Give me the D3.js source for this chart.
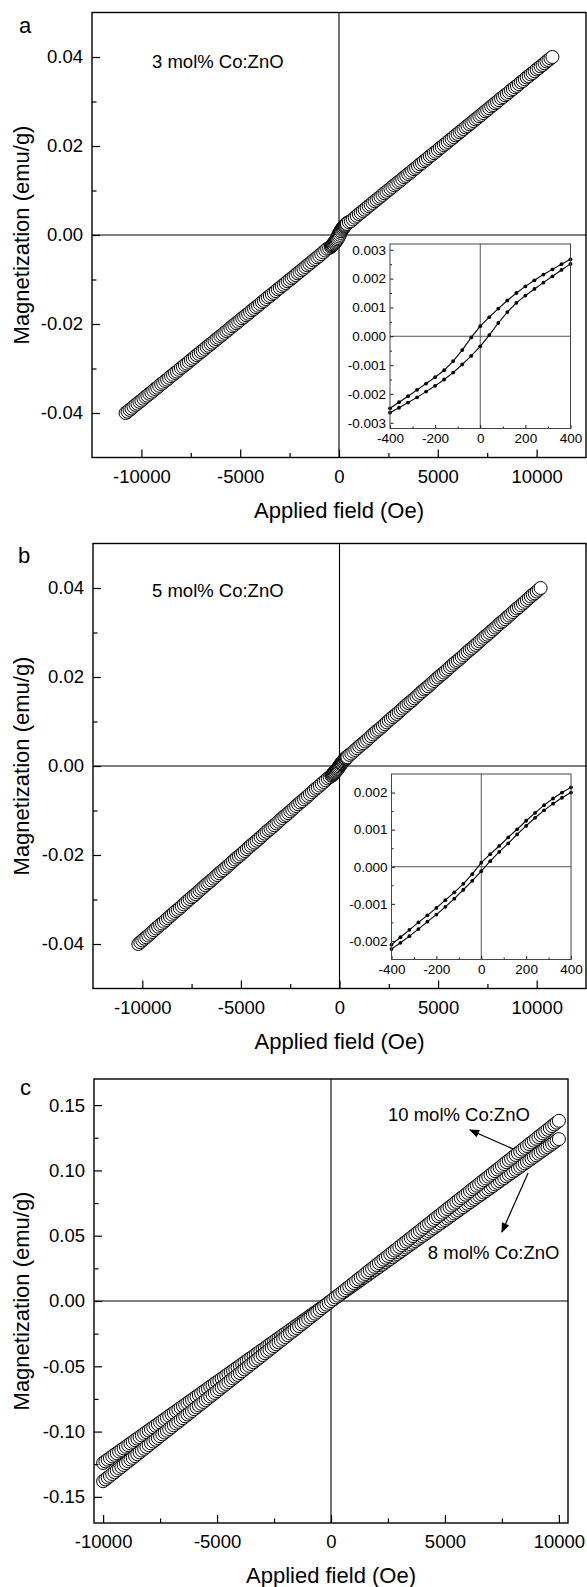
<!DOCTYPE html>
<html>
<head>
<meta charset="utf-8">
<title>M-H curves of Co:ZnO</title>
<script src="https://cdnjs.cloudflare.com/ajax/libs/d3/7.8.5/d3.min.js"></script>
<style>
  body { margin: 0; background: #fff; }
  svg { display: block; font-family: "Liberation Sans", Arial, sans-serif; }
</style>
</head>
<body>
<svg id="chart" width="587" height="1587"></svg>
<script>
// ---- data ----
// panel a, 3 mol% (field in Oe, magnetization in emu/g), first sweep
var fieldA = [-10800,-10600,-10400,-10200,-10000,-9800,-9600,-9400,-9200,-9000,-8800,-8600,-8400,-8200,-8000,-7800,-7600,-7400,-7200,-7000,
  -6800,-6600,-6400,-6200,-6000,-5800,-5600,-5400,-5200,-5000,-4800,-4600,-4400,-4200,-4000,-3800,-3600,-3400,-3200,-3000,
  -2800,-2600,-2400,-2200,-2000,-1800,-1600,-1400,-1200,-1000,-800,-600,-400,-200,0,200,400,600,800,1000,
  1200,1400,1600,1800,2000,2200,2400,2600,2800,3000,3200,3400,3600,3800,4000,4200,4400,4600,4800,5000,
  5200,5400,5600,5800,6000,6200,6400,6600,6800,7000,7200,7400,7600,7800,8000,8200,8400,8600,8800,9000,
  9200,9400,9600,9800,10000,10200,10400,10600,10800];
var magA = [-0.0400,-0.0393,-0.0386,-0.0379,-0.0372,-0.0364,-0.0357,-0.0350,-0.0343,-0.0335,-0.0328,-0.0321,-0.0314,-0.0307,-0.0299,-0.0292,-0.0285,-0.0278,-0.0270,-0.0263,
  -0.0256,-0.0249,-0.0242,-0.0234,-0.0227,-0.0220,-0.0213,-0.0205,-0.0198,-0.0191,-0.0184,-0.0177,-0.0169,-0.0162,-0.0155,-0.0148,-0.0140,-0.0133,-0.0126,-0.0119,
  -0.0112,-0.0104,-0.0097,-0.0090,-0.0083,-0.0076,-0.0068,-0.0061,-0.0054,-0.0047,-0.0039,-0.0031,-0.0026,-0.0016,0.0000,0.0016,0.0026,0.0031,0.0039,0.0047,
  0.0054,0.0061,0.0068,0.0076,0.0083,0.0090,0.0097,0.0104,0.0112,0.0119,0.0126,0.0133,0.0140,0.0148,0.0155,0.0162,0.0169,0.0177,0.0184,0.0191,
  0.0198,0.0205,0.0213,0.0220,0.0227,0.0234,0.0242,0.0249,0.0256,0.0263,0.0270,0.0278,0.0285,0.0292,0.0299,0.0307,0.0314,0.0321,0.0328,0.0335,
  0.0343,0.0350,0.0357,0.0364,0.0372,0.0379,0.0386,0.0393,0.0400];
// panel a, return sweep
var fieldA2 = [-10700,-10500,-10300,-10100,-9900,-9700,-9500,-9300,-9100,-8900,-8700,-8500,-8300,-8100,-7900,-7700,-7500,-7300,-7100,-6900,
  -6700,-6500,-6300,-6100,-5900,-5700,-5500,-5300,-5100,-4900,-4700,-4500,-4300,-4100,-3900,-3700,-3500,-3300,-3100,-2900,
  -2700,-2500,-2300,-2100,-1900,-1700,-1500,-1300,-1100,-900,-700,-500,-300,-100,100,300,500,700,900,1100,
  1300,1500,1700,1900,2100,2300,2500,2700,2900,3100,3300,3500,3700,3900,4100,4300,4500,4700,4900,5100,
  5300,5500,5700,5900,6100,6300,6500,6700,6900,7100,7300,7500,7700,7900,8100,8300,8500,8700,8900,9100,
  9300,9500,9700,9900,10100,10300,10500,10700];
var magA2 = [-0.0397,-0.0390,-0.0382,-0.0375,-0.0368,-0.0361,-0.0354,-0.0346,-0.0339,-0.0332,-0.0325,-0.0317,-0.0310,-0.0303,-0.0296,-0.0289,-0.0281,-0.0274,-0.0267,-0.0260,
  -0.0252,-0.0245,-0.0238,-0.0231,-0.0224,-0.0216,-0.0209,-0.0202,-0.0195,-0.0187,-0.0180,-0.0173,-0.0166,-0.0159,-0.0151,-0.0144,-0.0137,-0.0130,-0.0122,-0.0115,
  -0.0108,-0.0101,-0.0094,-0.0086,-0.0079,-0.0072,-0.0065,-0.0057,-0.0050,-0.0043,-0.0035,-0.0029,-0.0021,-0.0009,0.0009,0.0021,0.0029,0.0035,0.0043,0.0050,
  0.0057,0.0065,0.0072,0.0079,0.0086,0.0094,0.0101,0.0108,0.0115,0.0122,0.0130,0.0137,0.0144,0.0151,0.0159,0.0166,0.0173,0.0180,0.0187,0.0195,
  0.0202,0.0209,0.0216,0.0224,0.0231,0.0238,0.0245,0.0252,0.0260,0.0267,0.0274,0.0281,0.0289,0.0296,0.0303,0.0310,0.0317,0.0325,0.0332,0.0339,
  0.0346,0.0354,0.0361,0.0368,0.0375,0.0382,0.0390,0.0397];

// panel b, 5 mol%
var fieldB = [-10200,-10000,-9800,-9600,-9400,-9200,-9000,-8800,-8600,-8400,-8200,-8000,-7800,-7600,-7400,-7200,-7000,
  -6800,-6600,-6400,-6200,-6000,-5800,-5600,-5400,-5200,-5000,-4800,-4600,-4400,-4200,-4000,-3800,-3600,-3400,-3200,-3000,
  -2800,-2600,-2400,-2200,-2000,-1800,-1600,-1400,-1200,-1000,-800,-600,-400,-200,0,200,400,600,800,1000,
  1200,1400,1600,1800,2000,2200,2400,2600,2800,3000,3200,3400,3600,3800,4000,4200,4400,4600,4800,5000,
  5200,5400,5600,5800,6000,6200,6400,6600,6800,7000,7200,7400,7600,7800,8000,8200,8400,8600,8800,9000,
  9200,9400,9600,9800,10000,10200];
var magB = [-0.0400,-0.0392,-0.0385,-0.0377,-0.0369,-0.0361,-0.0354,-0.0346,-0.0338,-0.0330,-0.0323,-0.0315,-0.0307,-0.0299,-0.0292,-0.0284,-0.0276,
  -0.0268,-0.0261,-0.0253,-0.0245,-0.0237,-0.0230,-0.0222,-0.0214,-0.0206,-0.0199,-0.0191,-0.0183,-0.0175,-0.0168,-0.0160,-0.0152,-0.0144,-0.0137,-0.0129,-0.0121,
  -0.0113,-0.0106,-0.0098,-0.0090,-0.0082,-0.0075,-0.0067,-0.0059,-0.0051,-0.0044,-0.0036,-0.0028,-0.0021,-0.0011,0.0000,0.0011,0.0021,0.0028,0.0036,0.0044,
  0.0051,0.0059,0.0067,0.0075,0.0082,0.0090,0.0098,0.0106,0.0113,0.0121,0.0129,0.0137,0.0144,0.0152,0.0160,0.0168,0.0175,0.0183,0.0191,0.0199,
  0.0206,0.0214,0.0222,0.0230,0.0237,0.0245,0.0253,0.0261,0.0268,0.0276,0.0284,0.0292,0.0299,0.0307,0.0315,0.0323,0.0330,0.0338,0.0346,0.0354,
  0.0361,0.0369,0.0377,0.0385,0.0392,0.0400];
var fieldB2 = [-10100,-9900,-9700,-9500,-9300,-9100,-8900,-8700,-8500,-8300,-8100,-7900,-7700,-7500,-7300,-7100,-6900,
  -6700,-6500,-6300,-6100,-5900,-5700,-5500,-5300,-5100,-4900,-4700,-4500,-4300,-4100,-3900,-3700,-3500,-3300,-3100,-2900,
  -2700,-2500,-2300,-2100,-1900,-1700,-1500,-1300,-1100,-900,-700,-500,-300,-100,100,300,500,700,900,1100,
  1300,1500,1700,1900,2100,2300,2500,2700,2900,3100,3300,3500,3700,3900,4100,4300,4500,4700,4900,5100,
  5300,5500,5700,5900,6100,6300,6500,6700,6900,7100,7300,7500,7700,7900,8100,8300,8500,8700,8900,9100,
  9300,9500,9700,9900,10100];
var magB2 = [-0.0396,-0.0388,-0.0381,-0.0373,-0.0365,-0.0357,-0.0350,-0.0342,-0.0334,-0.0326,-0.0319,-0.0311,-0.0303,-0.0295,-0.0288,-0.0280,-0.0272,
  -0.0264,-0.0257,-0.0249,-0.0241,-0.0234,-0.0226,-0.0218,-0.0210,-0.0203,-0.0195,-0.0187,-0.0179,-0.0172,-0.0164,-0.0156,-0.0148,-0.0141,-0.0133,-0.0125,-0.0117,
  -0.0110,-0.0102,-0.0094,-0.0086,-0.0079,-0.0071,-0.0063,-0.0055,-0.0048,-0.0040,-0.0032,-0.0025,-0.0016,-0.0006,0.0006,0.0016,0.0025,0.0032,0.0040,0.0048,
  0.0055,0.0063,0.0071,0.0079,0.0086,0.0094,0.0102,0.0110,0.0117,0.0125,0.0133,0.0141,0.0148,0.0156,0.0164,0.0172,0.0179,0.0187,0.0195,0.0203,
  0.0210,0.0218,0.0226,0.0234,0.0241,0.0249,0.0257,0.0264,0.0272,0.0280,0.0288,0.0295,0.0303,0.0311,0.0319,0.0326,0.0334,0.0342,0.0350,0.0357,
  0.0365,0.0373,0.0381,0.0388,0.0396];

// low-field loops shown in the insets (same field steps for both)
var insetField = [-400,-360,-320,-280,-240,-200,-160,-120,-80,-40,0,40,80,120,160,200,240,280,320,360,400];
var insetAUpper = [-0.00250,-0.00229,-0.00208,-0.00186,-0.00164,-0.00142,-0.00118,-0.00086,-0.00048,-0.00004,0.00035,
  0.00066,0.00096,0.00124,0.00150,0.00173,0.00194,0.00214,0.00232,0.00250,0.00267];
var insetALower = [-0.00265,-0.00248,-0.00230,-0.00212,-0.00192,-0.00172,-0.00150,-0.00126,-0.00098,-0.00068,-0.00035,
  0.00004,0.00046,0.00084,0.00116,0.00141,0.00164,0.00186,0.00208,0.00230,0.00251];
var insetBUpper = [-0.00210,-0.00190,-0.00170,-0.00150,-0.00131,-0.00111,-0.00090,-0.00069,-0.00046,-0.00020,0.00011,
  0.00034,0.00056,0.00079,0.00101,0.00124,0.00145,0.00166,0.00184,0.00200,0.00214];
var insetBLower = [-0.00222,-0.00205,-0.00187,-0.00168,-0.00148,-0.00129,-0.00108,-0.00086,-0.00062,-0.00038,-0.00012,
  0.00015,0.00040,0.00063,0.00087,0.00110,0.00132,0.00152,0.00170,0.00186,0.00200];

// panel c, 8 and 10 mol%
var fieldC = [-10000,-9800,-9600,-9400,-9200,-9000,-8800,-8600,-8400,-8200,-8000,-7800,-7600,-7400,-7200,-7000,
  -6800,-6600,-6400,-6200,-6000,-5800,-5600,-5400,-5200,-5000,-4800,-4600,-4400,-4200,-4000,-3800,-3600,-3400,-3200,-3000,
  -2800,-2600,-2400,-2200,-2000,-1800,-1600,-1400,-1200,-1000,-800,-600,-400,-200,0,200,400,600,800,1000,
  1200,1400,1600,1800,2000,2200,2400,2600,2800,3000,3200,3400,3600,3800,4000,4200,4400,4600,4800,5000,
  5200,5400,5600,5800,6000,6200,6400,6600,6800,7000,7200,7400,7600,7800,8000,8200,8400,8600,8800,9000,
  9200,9400,9600,9800,10000];
var magC8 = [-0.1240,-0.1215,-0.1190,-0.1166,-0.1141,-0.1116,-0.1091,-0.1066,-0.1042,-0.1017,-0.0992,-0.0967,-0.0942,-0.0918,-0.0893,-0.0868,
  -0.0843,-0.0818,-0.0794,-0.0769,-0.0744,-0.0719,-0.0694,-0.0670,-0.0645,-0.0620,-0.0595,-0.0570,-0.0546,-0.0521,-0.0496,-0.0471,-0.0446,-0.0422,-0.0397,-0.0372,
  -0.0347,-0.0322,-0.0298,-0.0273,-0.0248,-0.0223,-0.0198,-0.0174,-0.0149,-0.0124,-0.0099,-0.0074,-0.0050,-0.0025,0.0000,0.0025,0.0050,0.0074,0.0099,0.0124,
  0.0149,0.0174,0.0198,0.0223,0.0248,0.0273,0.0298,0.0322,0.0347,0.0372,0.0397,0.0422,0.0446,0.0471,0.0496,0.0521,0.0546,0.0570,0.0595,0.0620,
  0.0645,0.0670,0.0694,0.0719,0.0744,0.0769,0.0794,0.0818,0.0843,0.0868,0.0893,0.0918,0.0942,0.0967,0.0992,0.1017,0.1042,0.1066,0.1091,0.1116,
  0.1141,0.1166,0.1190,0.1215,0.1240];
var magC10 = [-0.1380,-0.1352,-0.1325,-0.1297,-0.1270,-0.1242,-0.1214,-0.1187,-0.1159,-0.1132,-0.1104,-0.1076,-0.1049,-0.1021,-0.0994,-0.0966,
  -0.0938,-0.0911,-0.0883,-0.0856,-0.0828,-0.0800,-0.0773,-0.0745,-0.0718,-0.0690,-0.0662,-0.0635,-0.0607,-0.0580,-0.0552,-0.0524,-0.0497,-0.0469,-0.0442,-0.0414,
  -0.0386,-0.0359,-0.0331,-0.0304,-0.0276,-0.0248,-0.0221,-0.0193,-0.0166,-0.0138,-0.0110,-0.0083,-0.0055,-0.0028,0.0000,0.0028,0.0055,0.0083,0.0110,0.0138,
  0.0166,0.0193,0.0221,0.0248,0.0276,0.0304,0.0331,0.0359,0.0386,0.0414,0.0442,0.0469,0.0497,0.0524,0.0552,0.0580,0.0607,0.0635,0.0662,0.0690,
  0.0718,0.0745,0.0773,0.0800,0.0828,0.0856,0.0883,0.0911,0.0938,0.0966,0.0994,0.1021,0.1049,0.1076,0.1104,0.1132,0.1159,0.1187,0.1214,0.1242,
  0.1270,0.1297,0.1325,0.1352,0.1380];
var fieldC2 = [-9900,-9700,-9500,-9300,-9100,-8900,-8700,-8500,-8300,-8100,-7900,-7700,-7500,-7300,-7100,-6900,
  -6700,-6500,-6300,-6100,-5900,-5700,-5500,-5300,-5100,-4900,-4700,-4500,-4300,-4100,-3900,-3700,-3500,-3300,-3100,-2900,
  -2700,-2500,-2300,-2100,-1900,-1700,-1500,-1300,-1100,-900,-700,-500,-300,-100,100,300,500,700,900,1100,
  1300,1500,1700,1900,2100,2300,2500,2700,2900,3100,3300,3500,3700,3900,4100,4300,4500,4700,4900,5100,
  5300,5500,5700,5900,6100,6300,6500,6700,6900,7100,7300,7500,7700,7900,8100,8300,8500,8700,8900,9100,
  9300,9500,9700,9900];
var magC8b = [-0.1228,-0.1203,-0.1178,-0.1153,-0.1128,-0.1104,-0.1079,-0.1054,-0.1029,-0.1004,-0.0980,-0.0955,-0.0930,-0.0905,-0.0880,-0.0856,
  -0.0831,-0.0806,-0.0781,-0.0756,-0.0732,-0.0707,-0.0682,-0.0657,-0.0632,-0.0608,-0.0583,-0.0558,-0.0533,-0.0508,-0.0484,-0.0459,-0.0434,-0.0409,-0.0384,-0.0360,
  -0.0335,-0.0310,-0.0285,-0.0260,-0.0236,-0.0211,-0.0186,-0.0161,-0.0136,-0.0112,-0.0087,-0.0062,-0.0037,-0.0012,0.0012,0.0037,0.0062,0.0087,0.0112,0.0136,
  0.0161,0.0186,0.0211,0.0236,0.0260,0.0285,0.0310,0.0335,0.0360,0.0384,0.0409,0.0434,0.0459,0.0484,0.0508,0.0533,0.0558,0.0583,0.0608,0.0632,
  0.0657,0.0682,0.0707,0.0732,0.0756,0.0781,0.0806,0.0831,0.0856,0.0880,0.0905,0.0930,0.0955,0.0980,0.1004,0.1029,0.1054,0.1079,0.1104,0.1128,
  0.1153,0.1178,0.1203,0.1228];
var magC10b = [-0.1366,-0.1339,-0.1311,-0.1283,-0.1256,-0.1228,-0.1201,-0.1173,-0.1145,-0.1118,-0.1090,-0.1063,-0.1035,-0.1007,-0.0980,-0.0952,
  -0.0925,-0.0897,-0.0869,-0.0842,-0.0814,-0.0787,-0.0759,-0.0731,-0.0704,-0.0676,-0.0649,-0.0621,-0.0593,-0.0566,-0.0538,-0.0511,-0.0483,-0.0455,-0.0428,-0.0400,
  -0.0373,-0.0345,-0.0317,-0.0290,-0.0262,-0.0235,-0.0207,-0.0179,-0.0152,-0.0124,-0.0097,-0.0069,-0.0041,-0.0014,0.0014,0.0041,0.0069,0.0097,0.0124,0.0152,
  0.0179,0.0207,0.0235,0.0262,0.0290,0.0317,0.0345,0.0373,0.0400,0.0428,0.0455,0.0483,0.0511,0.0538,0.0566,0.0593,0.0621,0.0649,0.0676,0.0704,
  0.0731,0.0759,0.0787,0.0814,0.0842,0.0869,0.0897,0.0925,0.0952,0.0980,0.1007,0.1035,0.1063,0.1090,0.1118,0.1145,0.1173,0.1201,0.1228,0.1256,
  0.1283,0.1311,0.1339,0.1366];

// ticks and labels
var xTicksMain = [-10000,-5000,0,5000,10000];
var xMinorMain = [-7500,-2500,2500,7500];
var yTicksAB = [-0.04,-0.02,0,0.02,0.04];
var yMinorAB = [-0.03,-0.01,0.01,0.03];
var yTicksC = [-0.15,-0.10,-0.05,0,0.05,0.10,0.15];
var yMinorC = [-0.125,-0.075,-0.025,0.025,0.075,0.125];
var xTicksInset = [-400,-200,0,200,400];
var xMinorInset = [-300,-100,100,300];
var yTicksInsetA = [-0.003,-0.002,-0.001,0,0.001,0.002,0.003];
var yMinorInsetA = [-0.0025,-0.0015,-0.0005,0.0005,0.0015,0.0025];
var yTicksInsetB = [-0.002,-0.001,0,0.001,0.002];
var yMinorInsetB = [-0.0015,-0.0005,0.0005,0.0015];
var sampleA = '3 mol% Co:ZnO', sampleB = '5 mol% Co:ZnO';
var sampleC10 = '10 mol% Co:ZnO', sampleC8 = '8 mol% Co:ZnO';
var xTitle = 'Applied field (Oe)', yTitle = 'Magnetization (emu/g)';

// ---- drawing ----
var svg = d3.select('#chart');
var FONT = '"Liberation Sans", Arial, sans-serif';

svg.append('defs').append('marker')
  .attr('id', 'head').attr('viewBox', '0 0 10 10')
  .attr('refX', 9).attr('refY', 5)
  .attr('markerWidth', 12).attr('markerHeight', 10)
  .attr('markerUnits', 'userSpaceOnUse')
  .attr('orient', 'auto')
  .append('path').attr('d', 'M0,1 L10,5 L0,9 Z').attr('fill', '#000');

function axes(g, x, y, o) {
  var bottom = y.range()[0], left = x.range()[0];
  function style(sel, size) {
    sel.attr('font-size', size).attr('font-family', FONT);
    sel.select('.domain').remove();
    sel.selectAll('line').attr('stroke-width', o.tickW);
    sel.selectAll('text').attr('fill', '#000');
  }
  g.append('g').attr('transform', 'translate(0,' + bottom + ')')
    .call(d3.axisBottom(x).tickValues(o.xMajor).tickFormat(o.xFmt)
      .tickSize(-o.major).tickSizeOuter(0).tickPadding(o.xPad))
    .call(style, o.size);
  g.append('g').attr('transform', 'translate(0,' + bottom + ')')
    .call(d3.axisBottom(x).tickValues(o.xMinor).tickFormat('')
      .tickSize(-o.minor).tickSizeOuter(0))
    .call(style, o.size);
  g.append('g').attr('transform', 'translate(' + left + ',0)')
    .call(d3.axisLeft(y).tickValues(o.yMajor).tickFormat(o.yFmt)
      .tickSize(-o.major).tickSizeOuter(0).tickPadding(o.yPad))
    .call(style, o.size);
  g.append('g').attr('transform', 'translate(' + left + ',0)')
    .call(d3.axisLeft(y).tickValues(o.yMinor).tickFormat('')
      .tickSize(-o.minor).tickSizeOuter(0))
    .call(style, o.size);
}

function frame(g, x, y, color, w) {
  g.append('rect')
    .attr('x', x.range()[0]).attr('y', y.range()[1])
    .attr('width', x.range()[1] - x.range()[0])
    .attr('height', y.range()[0] - y.range()[1])
    .attr('fill', 'none').attr('stroke', color).attr('stroke-width', w);
}

function zeroLines(g, x, y, color, w) {
  g.append('line').attr('x1', x(0)).attr('x2', x(0))
    .attr('y1', y.range()[1]).attr('y2', y.range()[0])
    .attr('stroke', color).attr('stroke-width', w);
  g.append('line').attr('x1', x.range()[0]).attr('x2', x.range()[1])
    .attr('y1', y(0)).attr('y2', y(0))
    .attr('stroke', color).attr('stroke-width', w);
}

// every sweep of one sample, drawn as open circles in order of rising field
function chain(g, x, y, sweeps) {
  var pts = [];
  sweeps.forEach(function (s) {
    s[0].forEach(function (f, i) { pts.push([f, s[1][i]]); });
  });
  pts.sort(function (a, b) { return d3.ascending(a[0], b[0]); });
  g.append('g').selectAll('circle').data(pts).join('circle')
    .attr('cx', function (d) { return x(d[0]); })
    .attr('cy', function (d) { return y(d[1]); })
    .attr('r', 6.5)
    .attr('fill', '#fff').attr('stroke', '#000').attr('stroke-width', 1);
}

function fmt(n) { return function (d) { return d.toFixed(n); }; }

function mainPanel(p) {
  var g = svg.append('g');
  var x = d3.scaleLinear().domain(p.xDom).range(p.xRange);
  var y = d3.scaleLinear().domain(p.yDom).range(p.yRange);
  zeroLines(g, x, y, '#000', 1.1);
  p.samples.forEach(function (sweeps) { chain(g, x, y, sweeps); });
  axes(g, x, y, {
    xMajor: xTicksMain, xMinor: p.xMinor, yMajor: p.yMajor, yMinor: p.yMinor,
    xFmt: function (d) { return String(d); }, yFmt: fmt(2),
    major: 8, minor: 4.5, xPad: 12, yPad: 9, size: 18.5, tickW: 1.2
  });
  frame(g, x, y, '#000', 1.4);
  var midX = (p.xRange[0] + p.xRange[1]) / 2, midY = (p.yRange[0] + p.yRange[1]) / 2;
  g.append('text').attr('x', midX).attr('y', p.yRange[0] + 60)
    .attr('text-anchor', 'middle').attr('font-size', 22).text(xTitle);
  g.append('text').attr('transform', 'translate(29,' + midY + ') rotate(-90)')
    .attr('text-anchor', 'middle').attr('font-size', 22).text(yTitle);
  g.append('text').attr('x', p.letter[1]).attr('y', p.letter[2])
    .attr('font-size', 22).text(p.letter[0]);
  return { g: g, x: x, y: y };
}

function inset(p) {
  var g = svg.append('g');
  var x = d3.scaleLinear().domain([-400, 400]).range(p.xRange);
  var y = d3.scaleLinear().domain(p.yDom).range(p.yRange);
  g.append('rect').attr('x', p.xRange[0]).attr('y', p.yRange[1])
    .attr('width', p.xRange[1] - p.xRange[0]).attr('height', p.yRange[0] - p.yRange[1])
    .attr('fill', '#fff');
  zeroLines(g, x, y, '#555', 1);
  var line = d3.line().x(function (d, i) { return x(insetField[i]); }).y(function (d) { return y(d); });
  [p.upper, p.lower].forEach(function (s) {
    g.append('path').datum(s).attr('d', line)
      .attr('fill', 'none').attr('stroke', '#000').attr('stroke-width', 1.1);
    g.append('g').selectAll('circle').data(s).join('circle')
      .attr('cx', function (d, i) { return x(insetField[i]); })
      .attr('cy', function (d) { return y(d); })
      .attr('r', 1.9).attr('fill', '#000');
  });
  axes(g, x, y, {
    xMajor: xTicksInset, xMinor: xMinorInset, yMajor: p.yMajor, yMinor: p.yMinor,
    xFmt: function (d) { return String(d); }, yFmt: fmt(3),
    major: 3.5, minor: 2, xPad: 5, yPad: 4, size: 13.5, tickW: 0.9
  });
  frame(g, x, y, '#444', 1);
}

// panel a
var pa = mainPanel({
  xDom: [-12500, 12500], xRange: [92, 586], yDom: [-0.05, 0.05], yRange: [457.5, 12.5],
  xMinor: xMinorMain, yMajor: yTicksAB, yMinor: yMinorAB,
  samples: [[[fieldA, magA], [fieldA2, magA2], [insetField, insetAUpper], [insetField, insetALower]]],
  letter: ['a', 19, 33]
});
pa.g.append('text').attr('x', 152).attr('y', 68).attr('font-size', 18.5).text(sampleA);
inset({ xRange: [390, 570.5], yDom: [-0.0032, 0.0032], yRange: [428.5, 244],
  yMajor: yTicksInsetA, yMinor: yMinorInsetA, upper: insetAUpper, lower: insetALower });

// panel b
var pb = mainPanel({
  xDom: [-12500, 12500], xRange: [93, 586], yDom: [-0.05, 0.05], yRange: [988.5, 543.5],
  xMinor: xMinorMain, yMajor: yTicksAB, yMinor: yMinorAB,
  samples: [[[fieldB, magB], [fieldB2, magB2], [insetField, insetBUpper], [insetField, insetBLower]]],
  letter: ['b', 18, 563]
});
pb.g.append('text').attr('x', 152).attr('y', 597).attr('font-size', 18.5).text(sampleB);
inset({ xRange: [391.5, 571], yDom: [-0.0025, 0.0025], yRange: [959.5, 774],
  yMajor: yTicksInsetB, yMinor: yMinorInsetB, upper: insetBUpper, lower: insetBLower });

// panel c
var pc = mainPanel({
  xDom: [-10400, 10400], xRange: [94, 568], yDom: [-0.17, 0.17], yRange: [1523, 1079],
  xMinor: xMinorMain, yMajor: yTicksC, yMinor: yMinorC,
  samples: [[[fieldC, magC8], [fieldC2, magC8b]], [[fieldC, magC10], [fieldC2, magC10b]]],
  letter: ['c', 20, 1095]
});
var cx = pc.x, cy = pc.y;
pc.g.append('text').attr('x', cx(2500)).attr('y', cy(0.1378)).attr('font-size', 18.5).text(sampleC10);
pc.g.append('text').attr('x', cx(4250)).attr('y', cy(0.0322)).attr('font-size', 18.5).text(sampleC8);
pc.g.append('line').attr('x1', cx(7990)).attr('y1', cy(0.1164)).attr('x2', cx(6100)).attr('y2', cy(0.1310))
  .attr('stroke', '#000').attr('stroke-width', 1.2).attr('marker-end', 'url(#head)');
pc.g.append('line').attr('x1', cx(8650)).attr('y1', cy(0.0980)).attr('x2', cx(7500)).attr('y2', cy(0.0528))
  .attr('stroke', '#000').attr('stroke-width', 1.2).attr('marker-end', 'url(#head)');
</script>
</body>
</html>
